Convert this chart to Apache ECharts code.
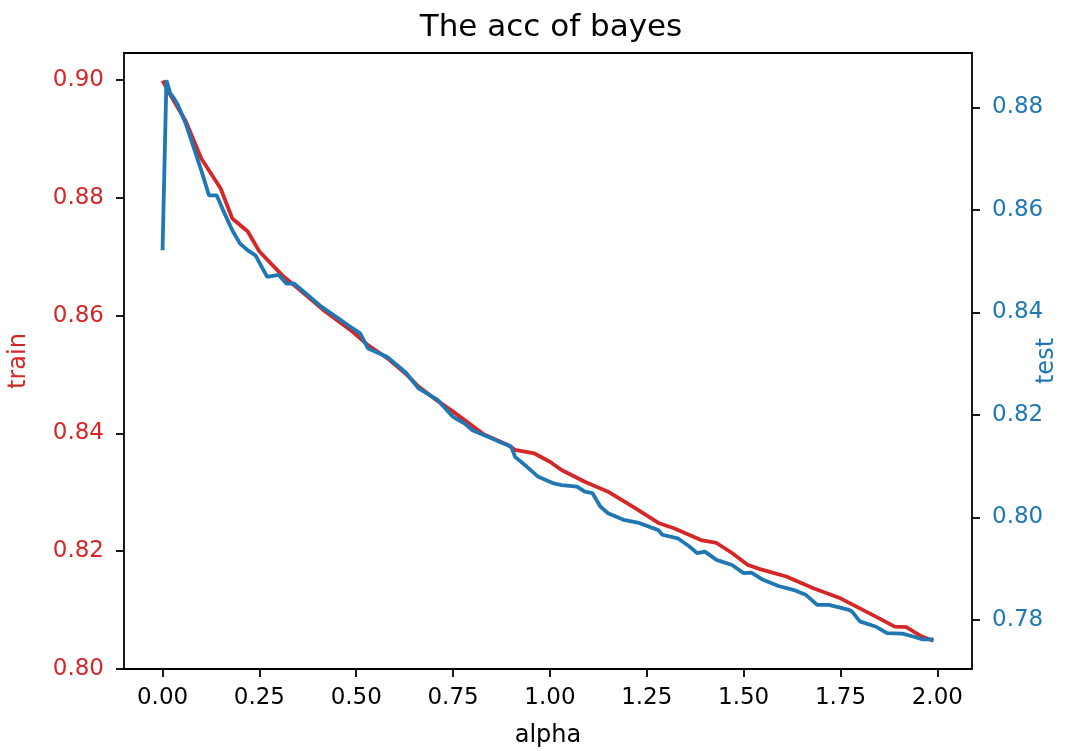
<!DOCTYPE html>
<html>
<head>
<meta charset="utf-8">
<title>The acc of bayes</title>
<script src="https://cdn.jsdelivr.net/npm/echarts@6/dist/echarts.min.js"></script>
<style>
  html, body { margin: 0; padding: 0; background: #fff; }
  #chart { width: 1080px; height: 751px; }
</style>
</head>
<body>
<div id="chart"></div>
<script>
// tick labels
const alphaTicks = [0, 0.25, 0.5, 0.75, 1.0, 1.25, 1.5, 1.75, 2.0]
const trainTicks = [0.80, 0.82, 0.84, 0.86, 0.88, 0.90]
const testTicks = [0.78, 0.80, 0.82, 0.84, 0.86, 0.88]

// train acc (left axis)
const trainAlpha = [0.00, 0.02, 0.06, 0.10, 0.15, 0.18, 0.22, 0.25, 0.31, 0.37, 0.42, 0.49, 0.53, 0.58, 0.63, 0.66, 0.70,
  0.75, 0.83, 0.89, 0.91, 0.96, 1.00, 1.03, 1.09, 1.15, 1.22, 1.28, 1.32, 1.39, 1.43, 1.47, 1.51, 1.54, 1.61, 1.68,
  1.75, 1.80, 1.85, 1.89, 1.92, 1.96, 1.99]
const trainAcc = [0.8999, 0.8975, 0.8930, 0.8867, 0.8816, 0.8765, 0.8743, 0.8709, 0.8668, 0.8635, 0.8607, 0.8573,
  0.8550, 0.8528, 0.8500, 0.8480, 0.8460, 0.8437, 0.8398, 0.8381, 0.8372, 0.8366, 0.8352, 0.8338, 0.8318, 0.8301,
  0.8273, 0.8248, 0.8239, 0.8219, 0.8214, 0.8197, 0.8177, 0.8170, 0.8157, 0.8137, 0.8120, 0.8103, 0.8086, 0.8072,
  0.8071, 0.8055, 0.8048]

// test acc (right axis)
const testAlpha = [0.00, 0.01, 0.02, 0.03, 0.04, 0.06, 0.08, 0.10, 0.12, 0.14, 0.16, 0.18, 0.20, 0.22, 0.24, 0.27,
  0.30, 0.32, 0.34, 0.37, 0.41, 0.46, 0.49, 0.51, 0.53, 0.58, 0.63, 0.66, 0.71, 0.75, 0.78, 0.80, 0.84, 0.88, 0.90,
  0.91, 0.94, 0.97, 1.01, 1.03, 1.07, 1.09, 1.11, 1.13, 1.15, 1.19, 1.23, 1.28, 1.29, 1.33, 1.36, 1.38, 1.40, 1.43,
  1.47, 1.50, 1.52, 1.55, 1.59, 1.63, 1.66, 1.69, 1.72, 1.77, 1.78, 1.80, 1.84, 1.87, 1.91, 1.94, 1.96, 1.99]
const testAcc = [0.8521, 0.8853, 0.8827, 0.8817, 0.8804, 0.8768, 0.8723, 0.8677, 0.8628, 0.8628, 0.8593, 0.8560,
  0.8534, 0.8521, 0.8511, 0.8469, 0.8473, 0.8456, 0.8456, 0.8437, 0.8411, 0.8385, 0.8369, 0.8359, 0.8330, 0.8313,
  0.8281, 0.8252, 0.8229, 0.8196, 0.8183, 0.8170, 0.8157, 0.8144, 0.8138, 0.8118, 0.8099, 0.8079, 0.8066, 0.8063,
  0.8060, 0.8050, 0.8047, 0.8021, 0.8008, 0.7995, 0.7989, 0.7975, 0.7966, 0.7959, 0.7943, 0.7930, 0.7933, 0.7917,
  0.7907, 0.7891, 0.7892, 0.7878, 0.7866, 0.7858, 0.7849, 0.7829, 0.7829, 0.7820, 0.7816, 0.7797, 0.7787, 0.7774,
  0.7773, 0.7767, 0.7762, 0.7762]

const RED = "#d62728"
const BLUE = "#1f77b4"
const FONT = "DejaVu Sans"

function zip(xs, ys) {
  return xs.map((x, i) => [x, ys[i]])
}

function initChart(dom) {
  const chart = echarts.init(dom)
  const tick = { show: true, inside: false, length: 8, lineStyle: { color: "#000", width: 1.8 } }
  // 轴线不过零点，框由 grid 画
  const line = { show: false, onZero: false }
  const option = {
    animation: false,
    backgroundColor: "#fff",
    title: {
      text: "The acc of bayes",
      left: 546,
      top: 7,
      textAlign: "center",
      textStyle: { fontFamily: FONT, fontSize: 31, fontWeight: "normal", color: "#000" }
    },
    grid: {
      left: 124,
      right: 108,
      top: 53,
      bottom: 82,
      outerBoundsMode: "none",
      containLabel: false,
      show: true,
      borderColor: "#000",
      borderWidth: 1.8,
      backgroundColor: "transparent"
    },
    xAxis: {
      type: "value",
      min: -0.0995,
      max: 2.0895,
      name: "alpha",
      nameLocation: "middle",
      nameGap: 55,
      nameTextStyle: { fontFamily: FONT, fontSize: 24, color: "#000" },
      axisLine: line,
      axisTick: Object.assign({ customValues: alphaTicks }, tick),
      splitLine: { show: false },
      axisLabel: {
        customValues: alphaTicks,
        margin: 18,
        fontFamily: FONT,
        fontSize: 23,
        color: "#000",
        formatter: (v) => v.toFixed(2)
      }
    },
    yAxis: [
      {
        type: "value",
        position: "left",
        min: 0.80,
        max: 0.9046,
        name: "train",
        nameLocation: "middle",
        nameGap: 93,
        nameTextStyle: { fontFamily: FONT, fontSize: 24, color: RED },
        axisLine: line,
        axisTick: Object.assign({ customValues: trainTicks }, tick),
        splitLine: { show: false },
        axisLabel: {
          customValues: trainTicks,
          margin: 20,
          fontFamily: FONT,
          fontSize: 23,
          color: RED,
          formatter: (v) => v.toFixed(2)
        }
      },
      {
        type: "value",
        position: "right",
        min: 0.7704,
        max: 0.8906,
        name: "test",
        nameLocation: "middle",
        nameGap: 63,
        // 名称贴近刻度标签，和原图一样
        nameMoveOverlap: false,
        nameTextStyle: { fontFamily: FONT, fontSize: 24, color: BLUE },
        axisLine: line,
        axisTick: Object.assign({ customValues: testTicks }, tick),
        splitLine: { show: false },
        axisLabel: {
          customValues: testTicks,
          margin: 20,
          fontFamily: FONT,
          fontSize: 23,
          color: BLUE,
          formatter: (v) => v.toFixed(2)
        }
      }
    ],
    series: [
      {
        name: "train",
        type: "line",
        yAxisIndex: 0,
        data: zip(trainAlpha, trainAcc),
        showSymbol: false,
        lineStyle: { color: RED, width: 3.8 },
        z: 2
      },
      {
        name: "test",
        type: "line",
        yAxisIndex: 1,
        data: zip(testAlpha, testAcc),
        showSymbol: false,
        lineStyle: { color: BLUE, width: 3.8 },
        z: 3
      }
    ]
  }
  chart.setOption(option)
}

initChart(document.getElementById("chart"))
</script>
</body>
</html>
